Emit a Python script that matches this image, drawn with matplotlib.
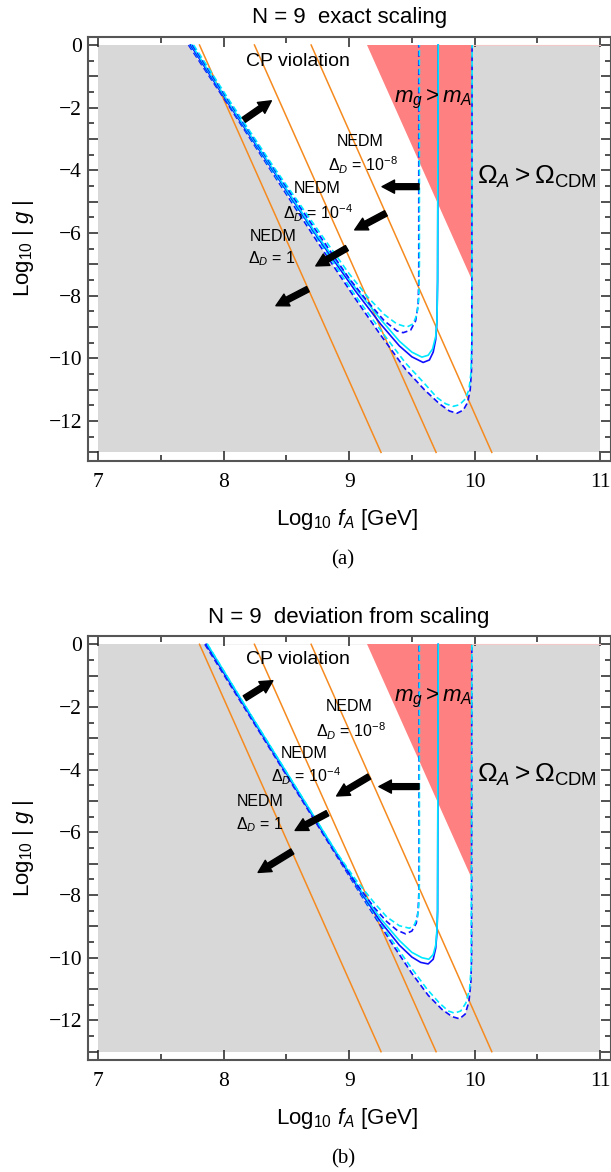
import matplotlib
matplotlib.use("Agg")
import matplotlib.pyplot as plt
from matplotlib.ticker import FixedLocator, FuncFormatter

plt.rcParams["font.family"] = ["Liberation Sans", "DejaVu Sans"]
plt.rcParams["mathtext.fontset"] = "custom"
plt.rcParams["mathtext.rm"] = "Liberation Sans"
plt.rcParams["mathtext.it"] = "Liberation Sans:italic"
plt.rcParams["mathtext.bf"] = "Liberation Sans:bold"

# plot range: log10 f_A [GeV] vs log10 |g|
F_MIN, F_MAX = 7.0, 11.0
G_MIN, G_MAX = -13.0, 0.0

# NEDM lines (Delta_D = 1, 1e-4, 1e-8): f_A where each meets g = 1 and g = 1e-13
nedm_top_x = [7.807, 8.245, 8.697]
nedm_bottom_x = [9.254, 9.693, 10.137]

# m_g > m_A wedge, and the Omega_A = Omega_CDM edge
mg_top_x = [9.144, 9.98]
mg_bottom_y = -7.5
omega_x = 9.98

# ---- (a) exact scaling: allowed-region contours ----
a_outer_blue_x = [7.72, 8.05, 8.40, 8.75, 9.05, 9.25, 9.45, 9.60, 9.72, 9.80, 9.86, 9.91, 9.945, 9.965, 9.975, 9.978, 9.98]
a_outer_blue_y = [0, -2.0, -4.15, -6.3, -8.1, -9.25, -10.35, -11.0, -11.45, -11.68, -11.75, -11.65, -11.4, -11.0, -10.4, -9.5, 0]
a_outer_cyan_x = [7.73, 8.05, 8.40, 8.75, 9.05, 9.25, 9.45, 9.60, 9.70, 9.77, 9.83, 9.88, 9.925, 9.955, 9.97, 9.978, 9.98]
a_outer_cyan_y = [0, -1.95, -4.1, -6.2, -8.0, -9.1, -10.15, -10.8, -11.25, -11.45, -11.53, -11.48, -11.3, -11.0, -10.5, -9.5, 0]
a_solid_blue_x = [7.735, 8.05, 8.40, 8.75, 9.05, 9.25, 9.40, 9.50, 9.59, 9.64, 9.67, 9.69, 9.70, 9.705, 9.71]
a_solid_blue_y = [0, -1.95, -4.05, -6.15, -7.85, -8.9, -9.6, -9.95, -10.13, -10.05, -9.8, -9.4, -8.8, -7.5, 0]
a_solid_cyan_x = [7.745, 8.05, 8.40, 8.75, 9.05, 9.25, 9.40, 9.50, 9.58, 9.63, 9.665, 9.69, 9.70, 9.705, 9.71]
a_solid_cyan_y = [0, -1.9, -4.0, -6.1, -7.75, -8.75, -9.45, -9.8, -9.96, -9.9, -9.7, -9.3, -8.8, -7.5, 0]
a_inner_blue_x = [7.75, 8.05, 8.40, 8.75, 9.00, 9.15, 9.28, 9.38, 9.43, 9.49, 9.53, 9.55, 9.555, 9.555]
a_inner_blue_y = [0, -1.85, -3.95, -6.0, -7.45, -8.2, -8.8, -9.12, -9.18, -9.1, -8.8, -8.3, -7.5, 0]
a_inner_cyan_x = [7.76, 8.05, 8.40, 8.75, 9.00, 9.15, 9.28, 9.38, 9.46, 9.51, 9.54, 9.555, 9.56, 9.56]
a_inner_cyan_y = [0, -1.8, -3.9, -5.9, -7.3, -8.05, -8.6, -8.9, -9.0, -8.9, -8.6, -8.1, -7.0, 0]

# ---- (b) deviation from scaling ----
b_outer_blue_x = [7.85, 8.20, 8.55, 8.90, 9.15, 9.35, 9.50, 9.63, 9.74, 9.82, 9.88, 9.925, 9.955, 9.97, 9.976, 9.978]
b_outer_blue_y = [0, -2.25, -4.5, -6.75, -8.35, -9.6, -10.5, -11.2, -11.65, -11.88, -11.95, -11.8, -11.4, -10.8, -10.0, 0]
b_outer_cyan_x = [7.86, 8.20, 8.55, 8.90, 9.15, 9.35, 9.50, 9.62, 9.72, 9.79, 9.84, 9.89, 9.93, 9.96, 9.973, 9.978]
b_outer_cyan_y = [0, -2.2, -4.45, -6.7, -8.3, -9.5, -10.35, -11.0, -11.45, -11.7, -11.77, -11.7, -11.45, -11.0, -10.3, 0]
b_solid_blue_x = [7.86, 8.20, 8.55, 8.90, 9.10, 9.25, 9.40, 9.50, 9.57, 9.63, 9.67, 9.69, 9.70, 9.705, 9.71]
b_solid_blue_y = [0, -2.2, -4.45, -6.7, -7.95, -8.85, -9.6, -9.98, -10.15, -10.2, -10.05, -9.7, -9.2, -8.5, 0]
b_solid_cyan_x = [7.87, 8.20, 8.55, 8.90, 9.10, 9.25, 9.40, 9.50, 9.58, 9.635, 9.67, 9.69, 9.70, 9.705, 9.71]
b_solid_cyan_y = [0, -2.15, -4.4, -6.65, -7.9, -8.75, -9.45, -9.83, -10.0, -10.05, -9.9, -9.6, -9.1, -8.5, 0]
b_inner_blue_x = [7.86, 8.20, 8.55, 8.90, 9.05, 9.20, 9.30, 9.38, 9.45, 9.50, 9.535, 9.55, 9.557, 9.557]
b_inner_blue_y = [0, -2.2, -4.45, -6.7, -7.6, -8.4, -8.85, -9.12, -9.24, -9.15, -8.9, -8.5, -7.8, 0]
b_inner_cyan_x = [7.87, 8.20, 8.55, 8.90, 9.05, 9.20, 9.30, 9.40, 9.48, 9.52, 9.545, 9.555, 9.56, 9.56]
b_inner_cyan_y = [0, -2.15, -4.4, -6.65, -7.5, -8.25, -8.7, -8.98, -9.06, -8.95, -8.7, -8.3, -7.6, 0]

# arrows: (tail, tip)
a_arrows = [((8.16, -2.39), (8.38, -1.78)),
            ((9.557, -4.52), (9.262, -4.52)),
            ((9.293, -5.37), (9.044, -5.90)),
            ((8.982, -6.48), (8.734, -7.05)),
            ((8.671, -7.79), (8.416, -8.32))]
b_arrows = [((8.168, -1.72), (8.392, -1.16)),
            ((9.557, -4.54), (9.237, -4.54)),
            ((9.16, -4.22), (8.90, -4.84)),
            ((8.827, -5.39), (8.569, -5.94)),
            ((8.547, -6.61), (8.274, -7.28))]

GRAY = "#d8d8d8"
PINK = "#ff8080"
ORANGE = "#f58a1f"
BLUE = "#1010ff"
CYAN = "#00e8ff"
DASH = (3.5, 2.0)

W, H = 611, 1172
fig = plt.figure(figsize=(W / 100, H / 100), dpi=100)


def px_box(left, right, top, bottom):
    return [left / W, 1 - bottom / H, (right - left) / W, (bottom - top) / H]


def draw_panel(ax, curves, arrows, title, labels):
    pad_x = 0.085 * (F_MAX - F_MIN) / 4
    pad_y = 0.265
    ax.set_xlim(F_MIN - pad_x, F_MAX + pad_x)
    ax.set_ylim(G_MIN - pad_y, G_MAX + pad_y)

    # excluded background, allowed region, m_g > m_A wedge
    ax.fill_between([F_MIN, F_MAX], G_MIN, G_MAX, color=GRAY, lw=0, zorder=0)
    ox, oy = curves[0][0], curves[0][1]
    ax.fill(ox, oy, color="white", lw=0, zorder=1)
    ax.fill([mg_top_x[0], mg_top_x[1], mg_top_x[1]], [G_MAX, G_MAX, mg_bottom_y],
            color=PINK, lw=0, zorder=2)
    ax.plot([omega_x, F_MAX], [G_MAX, G_MAX], color="#f3c8c8", lw=0.8, zorder=2)

    for x0, x1 in zip(nedm_top_x, nedm_bottom_x):
        ax.plot([x0, x1], [G_MAX, G_MIN], color=ORANGE, lw=1.1, zorder=3)

    styles = [(BLUE, DASH), (CYAN, DASH), (BLUE, None), (CYAN, None), (BLUE, DASH), (CYAN, DASH)]
    for (cx, cy), (col, dash) in zip(curves, styles):
        line, = ax.plot(cx, cy, color=col, lw=1.2, zorder=4)
        if dash:
            line.set_dashes(dash)

    for tail, tip in arrows:
        ax.annotate("", xy=tip, xytext=tail, zorder=6,
                    arrowprops=dict(arrowstyle="simple,head_length=0.9,head_width=0.95,tail_width=0.42",
                                    color="black", shrinkA=0, shrinkB=0, mutation_scale=10))

    for (x, y), s, fs in labels:
        ax.text(x, y, s, ha="center", va="center", fontsize=fs, zorder=7)

    ax.set_title(title, fontsize=16, pad=9.6)

    ax.xaxis.set_major_locator(FixedLocator([7, 8, 9, 10, 11]))
    ax.xaxis.set_minor_locator(FixedLocator([7.5, 8.5, 9.5, 10.5]))
    ax.yaxis.set_major_locator(FixedLocator(list(range(-13, 1))))
    ax.yaxis.set_minor_locator(FixedLocator([v + 0.5 for v in range(-13, 0)]))
    ax.xaxis.set_major_formatter(FuncFormatter(lambda v, p: f"{int(round(v))}"))
    ax.yaxis.set_major_formatter(FuncFormatter(
        lambda v, p: ("\u2212" + str(-int(round(v))) if v < 0 else "0") if int(round(v)) % 2 == 0 else ""))
    ax.tick_params(which="both", direction="in", top=True, right=True, color="#222222", width=1.1)
    ax.tick_params(which="major", length=7.5)
    ax.tick_params(which="minor", length=4.6)
    ax.tick_params(axis="x", pad=8.5)
    ax.tick_params(axis="y", pad=4)
    for lab in ax.get_xticklabels() + ax.get_yticklabels():
        lab.set_fontfamily("Liberation Serif")
        lab.set_fontsize(15.5)
    for sp in ax.spines.values():
        sp.set_color("#555555")
        sp.set_linewidth(1.5)


def add_labels(top, label):
    # axis titles and the panel tag, placed in pixel units
    fig.text(347 / W, 1 - (top + 488.3) / H, r"Log$_{10}$ $f_A$ [GeV]", ha="center",
             va="baseline", fontsize=16)
    fig.text(24 / W, 1 - (top + 211.9) / H, r"Log$_{10}$ | $g$ |", ha="center", va="center",
             rotation=90, fontsize=16)
    fig.text(342.7 / W, 1 - (top + 523.3) / H, label, ha="center", va="center",
             fontsize=15, fontfamily="Liberation Serif")


ax_a = fig.add_axes(px_box(87.6, 610.7, 36.7, 460.7))
draw_panel(ax_a,
           [(a_outer_blue_x, a_outer_blue_y), (a_outer_cyan_x, a_outer_cyan_y),
            (a_solid_blue_x, a_solid_blue_y), (a_solid_cyan_x, a_solid_cyan_y),
            (a_inner_blue_x, a_inner_blue_y), (a_inner_cyan_x, a_inner_cyan_y)],
           a_arrows, "N = 9  exact scaling",
           [((8.59, -0.53), "CP violation", 14),
            ((9.666, -1.75), r"$m_g > m_A$", 16),
            ((10.5, -4.2), r"$\Omega_A > \Omega_{\rm CDM}$", 19),
            ((9.09, -3.08), "NEDM", 11.5),
            ((9.106, -3.83), r"$\Delta_D$ = 10$^{-8}$", 11.5),
            ((8.743, -4.57), "NEDM", 11.5),
            ((8.755, -5.37), r"$\Delta_D$ = 10$^{-4}$", 11.5),
            ((8.391, -6.11), "NEDM", 11.5),
            ((8.382, -6.83), r"$\Delta_D$ = 1", 11.5)])
add_labels(36.7, "(a)")

ax_b = fig.add_axes(px_box(87.6, 610.7, 636.0, 1060.0))
draw_panel(ax_b,
           [(b_outer_blue_x, b_outer_blue_y), (b_outer_cyan_x, b_outer_cyan_y),
            (b_solid_blue_x, b_solid_blue_y), (b_solid_cyan_x, b_solid_cyan_y),
            (b_inner_blue_x, b_inner_blue_y), (b_inner_cyan_x, b_inner_cyan_y)],
           b_arrows, "N = 9  deviation from scaling",
           [((8.59, -0.5), "CP violation", 14),
            ((9.666, -1.72), r"$m_g > m_A$", 16),
            ((10.5, -4.17), r"$\Omega_A > \Omega_{\rm CDM}$", 19),
            ((8.997, -1.99), "NEDM", 11.5),
            ((9.013, -2.79), r"$\Delta_D$ = 10$^{-8}$", 11.5),
            ((8.64, -3.48), "NEDM", 11.5),
            ((8.656, -4.22), r"$\Delta_D$ = 10$^{-4}$", 11.5),
            ((8.292, -5.02), "NEDM", 11.5),
            ((8.286, -5.76), r"$\Delta_D$ = 1", 11.5)])
add_labels(636.0, "(b)")

fig.savefig("out.png", dpi=100)
